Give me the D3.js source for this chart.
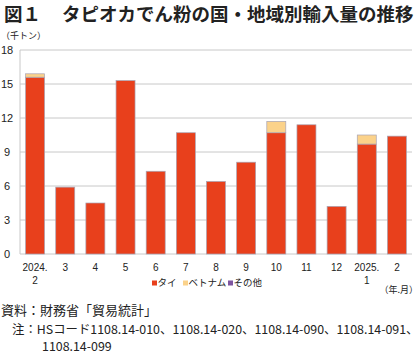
<!DOCTYPE html>
<html>
<head>
<meta charset="utf-8">
<script src="https://cdn.jsdelivr.net/npm/d3@7"></script>
<style>
  body { margin: 0; background: #fff; }
  svg text { font-family: "Liberation Sans", "Noto Sans CJK JP", sans-serif; fill: #222; }
  .jp { font-family: "Noto Sans CJK JP", sans-serif; }
</style>
</head>
<body>
<svg id="chart"></svg>
<script>
  const months = ['2024.\n2', '3', '4', '5', '6', '7', '8', '9', '10', '11', '12', '2025.\n1', '2'];
  const thai = [15.6, 5.9, 4.5, 15.3, 7.3, 10.7, 6.4, 8.1, 10.7, 11.4, 4.2, 9.7, 10.4];
  const vietnam = [0.3, 0, 0, 0, 0, 0, 0, 0, 1.0, 0, 0, 0.8, 0];
  const others = [0, 0, 0, 0, 0, 0, 0, 0, 0, 0, 0, 0, 0];
  const yTicks = [0, 3, 6, 9, 12, 15, 18];
  const seriesNames = ['タイ', 'ベトナム', 'その他'];
  const colors = ['#e8401c', '#fbd28a', '#7d55a0'];

  const svgWidth = 420;
  const svgHeight = 354;
  const margin = { top: 50, left: 20, right: 8, bottom: 100 };
  const width = svgWidth - (margin.left + margin.right);
  const height = svgHeight - (margin.top + margin.bottom);

  const svg = d3.select('#chart')
    .attr('width', svgWidth)
    .attr('height', svgHeight);

  // title
  const title = svg.append('text')
    .attr('class', 'jp')
    .attr('y', 21)
    .attr('font-size', 18.5)
    .attr('font-weight', 'bold');
  title.append('tspan').attr('x', 4).text('図１');
  title.append('tspan').attr('x', 62).text('タピオカでん粉の国・地域別輸入量の推移');

  svg.append('text')
    .attr('class', 'jp')
    .attr('x', 1).attr('y', 39)
    .attr('font-size', 9)
    .text('（千トン）');

  const g = svg.append('g')
    .attr('transform', `translate(${margin.left}, ${margin.top})`);

  const xScale = d3.scaleBand()
    .domain(d3.range(months.length))
    .range([0, width])
    .paddingInner(0.37)
    .paddingOuter(0.185);

  const yScale = d3.scaleLinear()
    .domain([0, 18])
    .range([height, 0]);

  // grid
  g.append('g')
    .selectAll('line')
    .data(yTicks)
    .enter()
    .append('line')
    .attr('x1', 0).attr('x2', width)
    .attr('y1', d => yScale(d)).attr('y2', d => yScale(d))
    .attr('stroke', '#c8c8c8')
    .attr('stroke-width', 1);

  g.append('line')
    .attr('x1', 0).attr('x2', 0)
    .attr('y1', 0).attr('y2', height)
    .attr('stroke', '#c8c8c8');

  // y labels
  svg.append('g')
    .selectAll('text')
    .data(yTicks)
    .enter()
    .append('text')
    .attr('x', 7)
    .attr('y', d => margin.top + yScale(d))
    .attr('dy', '0.36em')
    .attr('text-anchor', 'middle')
    .attr('font-size', 11)
    .text(d => d);

  // stacked bars
  const rows = months.map((m, i) => ({ i, thai: thai[i], vietnam: vietnam[i], others: others[i] }));
  const stack = d3.stack().keys(['thai', 'vietnam', 'others'])(rows);

  g.selectAll('.series')
    .data(stack)
    .enter()
    .append('g')
    .attr('fill', (d, k) => colors[k])
    .selectAll('rect')
    .data(d => d.filter(p => p[1] - p[0] > 0))
    .enter()
    .append('rect')
    .attr('x', p => xScale(p.data.i))
    .attr('width', xScale.bandwidth())
    .attr('y', p => yScale(p[1]))
    .attr('height', p => yScale(p[0]) - yScale(p[1]))
    .attr('stroke', '#a8a4b4')
    .attr('stroke-width', 0.7);

  // x labels
  const xl = g.append('g')
    .selectAll('text')
    .data(months)
    .enter()
    .append('text')
    .attr('text-anchor', 'middle')
    .attr('font-size', 10)
    .attr('transform', (d, i) => `translate(${xScale(i) + xScale.bandwidth() / 2}, ${height + 17})`);
  xl.selectAll('tspan')
    .data(d => d.split('\n'))
    .enter()
    .append('tspan')
    .attr('x', 0)
    .attr('dy', (d, j) => j === 0 ? 0 : 12.5)
    .text(d => d);

  // legend
  const legend = svg.append('g')
    .attr('transform', 'translate(152, 283)');
  const lx = [0, 31, 76];
  seriesNames.forEach((name, k) => {
    legend.append('rect')
      .attr('x', lx[k]).attr('y', -2.5)
      .attr('width', 5).attr('height', 5)
      .attr('fill', colors[k]);
    legend.append('text')
      .attr('class', 'jp')
      .attr('x', lx[k] + 5.5).attr('y', 0)
      .attr('dy', '0.36em')
      .attr('font-size', 9.5)
      .text(name);
  });

  svg.append('text')
    .attr('class', 'jp')
    .attr('x', 418).attr('y', 293)
    .attr('text-anchor', 'end')
    .attr('font-size', 9)
    .text('（年.月）');

  // notes
  svg.append('text')
    .attr('class', 'jp')
    .attr('x', 1).attr('y', 315)
    .attr('font-size', 13)
    .text('資料：財務省「貿易統計」');
  svg.append('text')
    .attr('class', 'jp')
    .attr('x', 12).attr('y', 334)
    .attr('font-size', 12.4)
    .text('注：HSコード1108.14-010、1108.14-020、1108.14-090、1108.14-091、');
  svg.append('text')
    .attr('class', 'jp')
    .attr('x', 42).attr('y', 351)
    .attr('font-size', 12.4)
    .text('1108.14-099');
</script>
</body>
</html>
